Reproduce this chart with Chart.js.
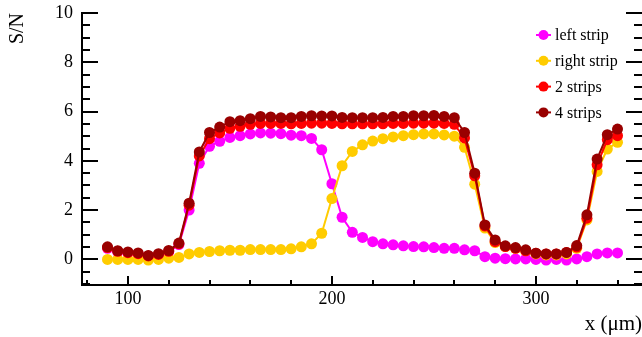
<!DOCTYPE html>
<html>
<head>
<meta charset="utf-8">
<script src="https://cdn.jsdelivr.net/npm/chart.js@4.4.1/dist/chart.umd.min.js"></script>
<style>
    html, body { margin: 0; padding: 0; background: #fff; }
    canvas { display: block; }
</style>
</head>
<body>
<canvas id="snChart" width="642" height="337"></canvas>
<script>
// scan position (um)
const positions = [90, 95, 100, 105, 110, 115, 120, 125, 130, 135, 140, 145, 150, 155, 160, 165, 170,
    175, 180, 185, 190, 195, 200, 205, 210, 215, 220, 225, 230, 235, 240, 245, 250, 255, 260, 265,
    270, 275, 280, 285, 290, 295, 300, 305, 310, 315, 320, 325, 330, 335, 340];

// S/N values
const leftStrip = [0.45, 0.3, 0.25, 0.22, 0.12, 0.18, 0.3, 0.6, 2.0, 3.9, 4.59, 4.79, 4.95, 5.02, 5.09, 5.13, 5.12,
    5.1, 5.04, 5.02, 4.91, 4.45, 3.07, 1.71, 1.1, 0.89, 0.72, 0.63, 0.59, 0.55, 0.52, 0.51, 0.48, 0.45, 0.45, 0.39,
    0.35, 0.11, 0.05, 0.03, 0.02, 0.02, 0.0, -0.03, 0.0, -0.03, 0.02, 0.11, 0.22, 0.26, 0.26];
const rightStrip = [0, 0, 0, 0, -0.03, 0, 0.05, 0.08, 0.22, 0.28, 0.32, 0.35, 0.37, 0.37, 0.4, 0.4, 0.4,
    0.4, 0.43, 0.51, 0.63, 1.06, 2.47, 3.8, 4.38, 4.65, 4.8, 4.9, 4.97, 5.02, 5.06, 5.09, 5.09, 5.05, 5.0, 4.55,
    3.05, 1.27, 0.68, 0.52, 0.45, 0.35, 0.22, 0.18, 0.18, 0.22, 0.45, 1.6, 3.57, 4.48, 4.75];
const twoStrips = [0.48, 0.33, 0.27, 0.23, 0.14, 0.2, 0.33, 0.63, 2.2, 4.2, 4.9, 5.13, 5.32, 5.4, 5.48, 5.52, 5.52,
    5.52, 5.5, 5.52, 5.53, 5.53, 5.52, 5.5, 5.5, 5.5, 5.5, 5.5, 5.52, 5.52, 5.53, 5.53, 5.53, 5.52, 5.48, 4.93,
    3.39, 1.35, 0.72, 0.52, 0.45, 0.35, 0.25, 0.22, 0.22, 0.28, 0.5, 1.67, 3.84, 4.86, 5.02];
const fourStrips = [0.51, 0.35, 0.3, 0.26, 0.16, 0.23, 0.36, 0.66, 2.28, 4.36, 5.15, 5.37, 5.59, 5.63, 5.71, 5.8, 5.78,
    5.75, 5.75, 5.8, 5.83, 5.82, 5.82, 5.76, 5.75, 5.75, 5.75, 5.76, 5.8, 5.8, 5.83, 5.83, 5.84, 5.8, 5.75, 5.15,
    3.5, 1.4, 0.79, 0.55, 0.48, 0.39, 0.25, 0.22, 0.22, 0.28, 0.56, 1.81, 4.07, 5.06, 5.29];

const xTickLabels = [100, 200, 300];
const yTickLabels = [0, 2, 4, 6, 8, 10];

const serif = "'Liberation Serif', 'Times New Roman', serif";

function toPoints(values) {
    return positions.map((x, i) => ({ x: x, y: values[i] }));
}

function series(label, values, color, order) {
    return {
        label: label,
        data: toPoints(values),
        borderColor: color,
        backgroundColor: color,
        borderWidth: 2,
        pointRadius: 5.5,
        pointBorderWidth: 0,
        tension: 0,
        order: order
    };
}

// ROOT style ticks pointing into the frame, also mirrored on the right side
const frameTicks = {
    id: "frameTicks",
    afterDraw(chart) {
        const ctx = chart.ctx;
        const area = chart.chartArea;
        const xs = chart.scales.x;
        const ys = chart.scales.y;
        ctx.save();
        ctx.strokeStyle = "#000";
        ctx.lineWidth = 2;
        ctx.beginPath();
        for (let v = -1; v <= 10; v += 0.5) {
            const py = Math.round(ys.getPixelForValue(v));
            const len = v % 2 === 0 ? 16 : 8;
            ctx.moveTo(area.left, py);
            ctx.lineTo(area.left + len, py);
            ctx.moveTo(area.right, py);
            ctx.lineTo(area.right - len, py);
        }
        for (let v = 80; v <= 340; v += 20) {
            const px = Math.round(xs.getPixelForValue(v));
            const len = v % 100 === 0 ? 9 : 5;
            ctx.moveTo(px, area.bottom);
            ctx.lineTo(px, area.bottom - len);
        }
        ctx.stroke();
        ctx.restore();
    }
};

// legend with a short line through the marker
const lineLegend = {
    id: "lineLegend",
    afterDatasetsDraw(chart) {
        const ctx = chart.ctx;
        const area = chart.chartArea;
        const x0 = area.right - 106;
        const y0 = area.top + 22;
        ctx.save();
        ctx.font = "16px " + serif;
        ctx.textBaseline = "middle";
        ctx.textAlign = "left";
        chart.data.datasets.forEach((ds, i) => {
            const y = y0 + i * 25.8;
            ctx.strokeStyle = ds.borderColor;
            ctx.lineWidth = 2;
            ctx.beginPath();
            ctx.moveTo(x0, y);
            ctx.lineTo(x0 + 15, y);
            ctx.stroke();
            ctx.fillStyle = ds.backgroundColor;
            ctx.beginPath();
            ctx.arc(x0 + 7.5, y, 5, 0, 2 * Math.PI);
            ctx.fill();
            ctx.fillStyle = "#000";
            ctx.fillText(ds.label, x0 + 19, y + 1);
        });
        ctx.restore();
    }
};

new Chart(document.getElementById("snChart"), {
    type: "line",
    data: {
        datasets: [
            series("left strip", leftStrip, "#ff00ff", 3),
            series("right strip", rightStrip, "#ffcc00", 2),
            series("2 strips", twoStrips, "#ff0000", 1),
            series("4 strips", fourStrips, "#990000", 0)
        ]
    },
    options: {
        responsive: false,
        animation: false,
        layout: { autoPadding: false, padding: { top: 13, right: 0, bottom: 0, left: 0 } },
        plugins: {
            legend: { display: false },
            tooltip: { enabled: false }
        },
        scales: {
            x: {
                type: "linear",
                min: 77.5,
                max: 352,
                grid: { display: false, drawTicks: false },
                border: { display: true, color: "#000", width: 2 },
                afterBuildTicks: s => { s.ticks = xTickLabels.map(v => ({ value: v })); },
                afterFit: s => { s.height = 52; s.paddingLeft = 0; s.paddingRight = 0; },
                ticks: { color: "#000", font: { family: serif, size: 18 }, padding: 3, maxRotation: 0 },
                title: {
                    display: true, text: "x (μm)", align: "end", color: "#000",
                    font: { family: serif, size: 21 }, padding: { top: 0, bottom: 0 }
                }
            },
            y: {
                min: -1.04,
                max: 10,
                grid: { display: false, drawTicks: false },
                border: { display: true, color: "#000", width: 2 },
                afterBuildTicks: s => { s.ticks = yTickLabels.map(v => ({ value: v })); },
                afterFit: s => { s.width = 82; s.paddingTop = 0; s.paddingBottom = 0; },
                ticks: { color: "#000", font: { family: serif, size: 18 }, padding: 9 },
                title: {
                    display: true, text: "S/N", align: "end", color: "#000",
                    font: { family: serif, size: 20 }, padding: { top: 6, bottom: 0 }
                }
            }
        }
    },
    plugins: [frameTicks, lineLegend]
});
</script>
</body>
</html>
